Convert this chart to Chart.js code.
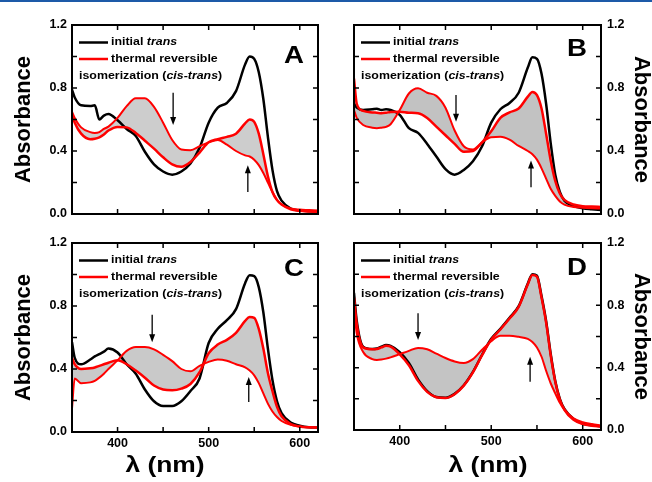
<!DOCTYPE html>
<html>
<head>
<meta charset="utf-8">
<script src="https://cdn.jsdelivr.net/npm/chart.js@4.4.1/dist/chart.umd.min.js"></script>
<style>
  body { margin: 0; background: #fff; }
  #fig { position: relative; width: 652px; height: 482px; overflow: hidden; }
  #fig canvas { position: absolute; }
  .rule { position: absolute; left: 0; top: 0; width: 652px; height: 2px; background: #1d5aa8; }
</style>
</head>
<body>
<div id="fig">
  <div class="rule"></div>
  <canvas id="chart-a" width="326" height="236" style="left:0;top:0"></canvas>
  <canvas id="chart-b" width="326" height="236" style="left:326px;top:0"></canvas>
  <canvas id="chart-c" width="326" height="256" style="left:0;top:226px"></canvas>
  <canvas id="chart-d" width="326" height="256" style="left:326px;top:226px"></canvas>
</div>
<script>
const FONT = "'Liberation Sans', Arial, Helvetica, sans-serif";
Chart.defaults.font.family = FONT;
Chart.defaults.color = '#000';

// wavelength (nm)
const wl = [350, 353, 360, 370, 375, 380, 385, 390, 400, 410, 420, 430, 440, 450, 460, 470, 480, 490,
            500, 510, 520, 530, 540, 545, 550, 555, 560, 565, 570, 575, 580, 590, 600, 610, 620];

// panel A
const transA = [0.79, 0.74, 0.69, 0.685, 0.69, 0.60, 0.625, 0.635, 0.595, 0.54, 0.495, 0.395, 0.315, 0.27, 0.25, 0.27, 0.32, 0.42,
                0.58, 0.675, 0.705, 0.78, 0.95, 1.0, 0.985, 0.90, 0.73, 0.49, 0.28, 0.145, 0.085, 0.035, 0.022, 0.018, 0.015];
const startA = [0.65, 0.61, 0.55, 0.52, 0.515, 0.52, 0.54, 0.555, 0.61, 0.685, 0.735, 0.735, 0.68, 0.58, 0.47, 0.41, 0.405, 0.43,
                0.455, 0.47, 0.44, 0.40, 0.372, 0.365, 0.345, 0.31, 0.26, 0.20, 0.14, 0.09, 0.06, 0.035, 0.028, 0.025, 0.022];
const endA = [0.63, 0.58, 0.51, 0.475, 0.478, 0.487, 0.505, 0.53, 0.553, 0.55, 0.515, 0.465, 0.415, 0.36, 0.315, 0.30, 0.33, 0.39,
              0.455, 0.475, 0.49, 0.51, 0.575, 0.60, 0.585, 0.51, 0.38, 0.24, 0.14, 0.088, 0.06, 0.03, 0.02, 0.016, 0.014];
// arrows: [wavelength, from absorbance, to absorbance]
const arrowsA = [[461, 0.77, 0.565], [543, 0.14, 0.31]];

// panel B
const transB = [0.70, 0.675, 0.66, 0.665, 0.668, 0.66, 0.665, 0.66, 0.63, 0.545, 0.515, 0.445, 0.365, 0.285, 0.25, 0.28, 0.335, 0.43,
                0.58, 0.665, 0.705, 0.77, 0.93, 0.995, 0.985, 0.89, 0.70, 0.45, 0.25, 0.14, 0.085, 0.05, 0.036, 0.03, 0.025];
const startB = [0.66, 0.61, 0.565, 0.548, 0.545, 0.548, 0.553, 0.57, 0.66, 0.765, 0.798, 0.77, 0.75, 0.675, 0.53, 0.43, 0.41, 0.455,
                0.488, 0.49, 0.472, 0.432, 0.40, 0.38, 0.345, 0.29, 0.225, 0.16, 0.115, 0.08, 0.06, 0.045, 0.04, 0.037, 0.035];
const endB = [0.86, 0.70, 0.655, 0.645, 0.643, 0.64, 0.643, 0.648, 0.65, 0.643, 0.64, 0.61, 0.555, 0.50, 0.445, 0.395, 0.40, 0.455,
              0.525, 0.61, 0.645, 0.67, 0.745, 0.775, 0.755, 0.67, 0.51, 0.34, 0.21, 0.13, 0.09, 0.06, 0.05, 0.047, 0.045];
const arrowsB = [[461.5, 0.755, 0.585], [543.5, 0.17, 0.34]];

// panel C
const transC = [0.57, 0.47, 0.43, 0.46, 0.48, 0.495, 0.51, 0.53, 0.505, 0.43, 0.37, 0.27, 0.195, 0.165, 0.165, 0.195, 0.26, 0.34,
                0.565, 0.655, 0.71, 0.78, 0.945, 0.995, 0.99, 0.92, 0.76, 0.53, 0.33, 0.195, 0.12, 0.06, 0.04, 0.03, 0.028];
const startC = [0.15, 0.34, 0.31, 0.315, 0.325, 0.345, 0.37, 0.40, 0.455, 0.515, 0.54, 0.54, 0.525, 0.49, 0.45, 0.40, 0.385, 0.42,
                0.445, 0.46, 0.452, 0.43, 0.41, 0.39, 0.36, 0.31, 0.245, 0.18, 0.13, 0.095, 0.07, 0.045, 0.035, 0.03, 0.028];
const endC = [0.47, 0.43, 0.40, 0.405, 0.41, 0.42, 0.43, 0.44, 0.455, 0.43, 0.39, 0.345, 0.295, 0.27, 0.265, 0.275, 0.305, 0.38,
              0.50, 0.555, 0.585, 0.63, 0.705, 0.73, 0.725, 0.655, 0.53, 0.375, 0.26, 0.16, 0.10, 0.05, 0.035, 0.03, 0.028];
const arrowsC = [[438, 0.745, 0.57], [544, 0.19, 0.35]];

// panel D
const transD = [0.88, 0.70, 0.535, 0.52, 0.523, 0.535, 0.545, 0.54, 0.50, 0.43, 0.325, 0.25, 0.212, 0.207, 0.232, 0.287, 0.373, 0.483,
                0.585, 0.65, 0.72, 0.795, 0.94, 1.0, 0.99, 0.86, 0.70, 0.49, 0.315, 0.20, 0.135, 0.07, 0.042, 0.03, 0.024];
const startD = [0.78, 0.62, 0.50, 0.455, 0.449, 0.452, 0.458, 0.466, 0.487, 0.508, 0.527, 0.518, 0.49, 0.462, 0.44, 0.43, 0.455, 0.515,
                0.57, 0.605, 0.605, 0.598, 0.585, 0.565, 0.53, 0.47, 0.38, 0.30, 0.235, 0.175, 0.13, 0.075, 0.05, 0.038, 0.03];
const endD = [0.85, 0.68, 0.53, 0.518, 0.52, 0.53, 0.54, 0.535, 0.485, 0.415, 0.315, 0.245, 0.21, 0.205, 0.23, 0.285, 0.37, 0.48,
              0.58, 0.645, 0.715, 0.79, 0.935, 0.995, 0.985, 0.85, 0.69, 0.48, 0.31, 0.195, 0.13, 0.065, 0.038, 0.028, 0.022];
const arrowsD = [[420, 0.75, 0.578], [542.5, 0.31, 0.47]];

const toXY = (ys) => wl.map((x, i) => ({ x: x, y: ys[i] }));

// bold text, optionally italic pieces, a bit wider like the original figure
function richText(ctx, parts, x, y, size, stretch, align) {
  ctx.save();
  ctx.translate(x, y);
  ctx.scale(stretch, 1);
  ctx.textBaseline = 'middle';
  ctx.textAlign = 'left';
  ctx.fillStyle = '#000';
  let w = 0;
  parts.forEach(([t, it]) => {
    ctx.font = (it ? 'italic ' : '') + 'bold ' + size + 'px ' + FONT;
    w += ctx.measureText(t).width;
  });
  let cx = align === 'center' ? -w / 2 : 0;
  parts.forEach(([t, it]) => {
    ctx.font = (it ? 'italic ' : '') + 'bold ' + size + 'px ' + FONT;
    ctx.fillText(t, cx, 0);
    cx += ctx.measureText(t).width;
  });
  ctx.restore();
}

const panelDecor = {
  id: 'panelDecor',
  afterDraw(chart, args, opts) {
    const { ctx, chartArea: ca, scales: { x, y } } = chart;
    ctx.save();

    // arrows showing the direction of change
    ctx.strokeStyle = '#000';
    ctx.fillStyle = '#000';
    ctx.lineWidth = 1.3;
    (opts.arrows || []).forEach(([w, a0, a1]) => {
      const px = x.getPixelForValue(w);
      const y0 = y.getPixelForValue(a0);
      const y1 = y.getPixelForValue(a1);
      const dir = y1 > y0 ? 1 : -1;
      ctx.beginPath(); ctx.moveTo(px, y0); ctx.lineTo(px, y1 - dir * 6); ctx.stroke();
      ctx.beginPath();
      ctx.moveTo(px, y1);
      ctx.lineTo(px - 3, y1 - dir * 8);
      ctx.lineTo(px + 3, y1 - dir * 8);
      ctx.closePath();
      ctx.fill();
    });

    // inward ticks on all four sides
    ctx.lineWidth = 1.5;
    ctx.beginPath();
    x.ticks.forEach(t => {
      if (t.value <= x.min || t.value >= x.max) return;
      const px = x.getPixelForValue(t.value);
      ctx.moveTo(px, ca.bottom); ctx.lineTo(px, ca.bottom - 5);
      ctx.moveTo(px, ca.top); ctx.lineTo(px, ca.top + 5);
    });
    y.ticks.forEach(t => {
      if (t.value <= y.min + 1e-6 || t.value >= y.max - 1e-6) return;
      const py = y.getPixelForValue(t.value);
      ctx.moveTo(ca.left, py); ctx.lineTo(ca.left + 5, py);
      ctx.moveTo(ca.right, py); ctx.lineTo(ca.right - 5, py);
    });
    ctx.stroke();
    ctx.lineWidth = 2;
    ctx.strokeRect(ca.left, ca.top, ca.right - ca.left, ca.bottom - ca.top);

    // legend
    const lx = ca.left + 7;
    ctx.lineWidth = 2.5;
    ctx.strokeStyle = '#000';
    ctx.beginPath(); ctx.moveTo(lx, ca.top + 17.5); ctx.lineTo(lx + 29, ca.top + 17.5); ctx.stroke();
    ctx.strokeStyle = '#ff0000';
    ctx.beginPath(); ctx.moveTo(lx, ca.top + 34); ctx.lineTo(lx + 29, ca.top + 34); ctx.stroke();
    richText(ctx, [['initial ', false], ['trans', true]], lx + 32, ca.top + 17.5, 10.5, 1.18);
    richText(ctx, [['thermal reversible', false]], lx + 32, ca.top + 34, 10.5, 1.18);
    richText(ctx, [['isomerization (', false], ['cis-trans', true], [')', false]], lx, ca.top + 51, 10.5, 1.18);

    // panel letter
    richText(ctx, [[opts.letter, false]], ca.right - 24, ca.top + opts.letterDy, 24, 1.15, 'center');

    // x axis title, centred on the half figure like the original
    if (opts.xTitle) {
      richText(ctx, [['\u03bb (nm)', false]], opts.xTitle[0], opts.xTitle[1], 22, 1.2, 'center');
    }
    ctx.restore();
  }
};

function makePanel(id, trans, start, end, arrows, p) {
  const left = p.side === 'left';
  return new Chart(document.getElementById(id), {
    type: 'line',
    data: {
      datasets: [
        { label: 'final', data: toXY(end), borderColor: '#ff0000', borderWidth: 2.5 },
        { label: 'start', data: toXY(start), borderColor: '#ff0000', borderWidth: 2,
          fill: '-1', backgroundColor: p.band },
        { label: 'initial trans', data: toXY(trans), borderColor: '#000000', borderWidth: 2.5 }
      ]
    },
    options: {
      responsive: false,
      animation: false,
      devicePixelRatio: 1,
      layout: { padding: p.padding },
      elements: {
        point: { radius: 0 },
        line: { cubicInterpolationMode: 'monotone', fill: false }
      },
      scales: {
        x: {
          type: 'linear', min: 350, max: 620,
          grid: { display: false, drawTicks: false },
          border: { display: false },
          ticks: {
            display: p.xLabels, stepSize: 50, includeBounds: false, autoSkip: false,
            maxRotation: 0, padding: 4, color: '#000',
            font: { size: 12.5, weight: 'bold' },
            callback: (v) => (v % 100 === 0 ? String(v) : '')
          },
          afterFit: (s) => { s.height = p.xLabels ? 22 : 0; }
        },
        y: {
          position: p.side, min: 0, max: 1.2,
          grid: { display: false, drawTicks: false },
          border: { display: false },
          ticks: {
            stepSize: 0.2, padding: left ? 5 : 6, color: '#000',
            font: { size: 12.5, weight: 'bold' },
            callback: (v) => (Math.round(v * 10) % 4 === 0 ? v.toFixed(1) : '')
          },
          title: {
            display: true, text: 'Absorbance', color: '#000',
            font: { size: 22, weight: 'bold', lineHeight: 1 },
            padding: { top: left ? 13 : 0, bottom: 0 }
          },
          afterFit: (s) => { s.width = left ? 72 : 51; }
        }
      },
      plugins: {
        legend: { display: false },
        tooltip: { enabled: false },
        filler: { drawTime: 'beforeDatasetsDraw' },
        panelDecor: { letter: p.letter, letterDy: p.letterDy, xTitle: p.xTitle, arrows: arrows }
      }
    },
    plugins: [panelDecor]
  });
}

makePanel('chart-a', transA, startA, endA, arrowsA, {
  side: 'left', xLabels: false, letter: 'A', letterDy: 31, band: '#cdcdcd',
  padding: { left: 0, right: 8, top: 25, bottom: 22 }
});
makePanel('chart-b', transB, startB, endB, arrowsB, {
  side: 'right', xLabels: false, letter: 'B', letterDy: 24, band: '#c2c2c2',
  padding: { left: 28, right: 0, top: 25, bottom: 22 }
});
makePanel('chart-c', transC, startC, endC, arrowsC, {
  side: 'left', xLabels: true, letter: 'C', letterDy: 26.5, xTitle: [165, 240], band: '#c9c9c9',
  padding: { left: 0, right: 8, top: 17, bottom: 28 }
});
makePanel('chart-d', transD, startD, endD, arrowsD, {
  side: 'right', xLabels: true, letter: 'D', letterDy: 25.5, xTitle: [162, 240], band: '#c4c4c4',
  padding: { left: 28, right: 0, top: 17, bottom: 30 }
});
</script>
</body>
</html>
